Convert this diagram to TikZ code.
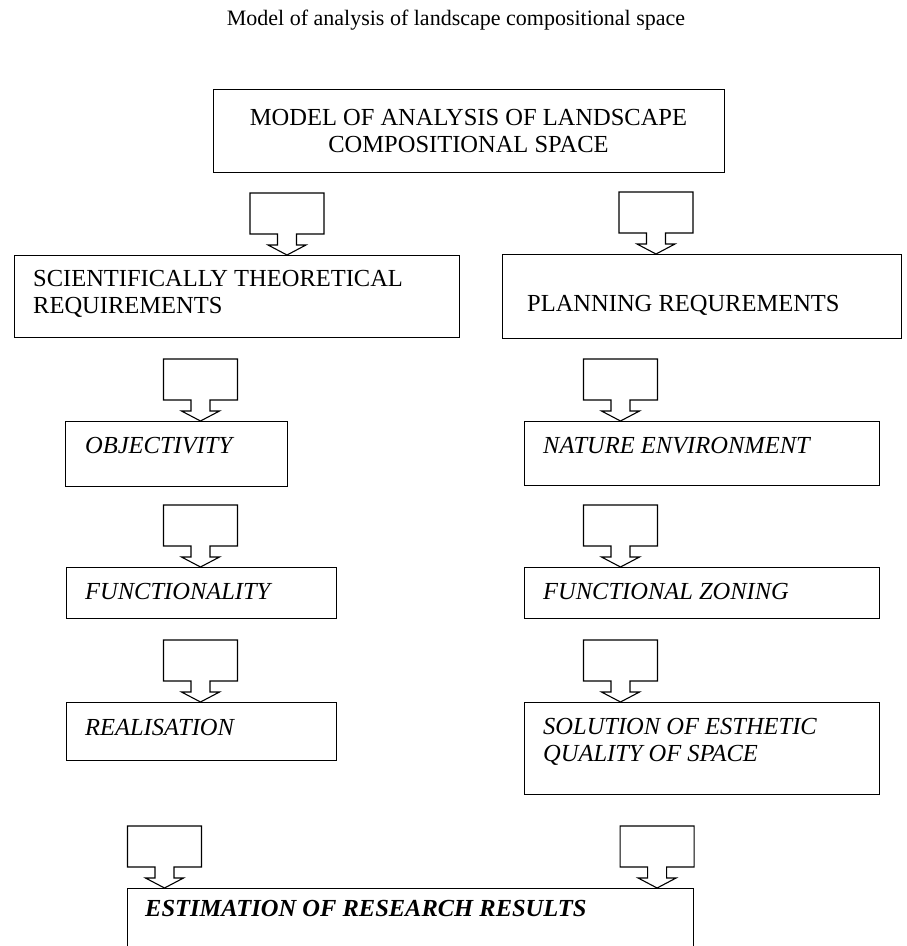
\documentclass[tikz,border=0pt]{standalone}
\usepackage{fontspec}
\setmainfont{Liberation Serif}
\usetikzlibrary{calc}
\begin{document}
\begin{tikzpicture}[x=1pt,y=-1pt,
  box/.style={draw, line width=1.1pt, rectangle, inner sep=0pt, anchor=north west},
  txt/.style={inner sep=0pt, font=\fontsize{24.5}{26.5}\selectfont},
  itxt/.style={txt, font=\fontsize{24.5}{26.5}\selectfont\itshape, anchor=base west},
  btxt/.style={txt, font=\fontsize{24.5}{26.5}\selectfont\bfseries\itshape, anchor=base west},
  barrow/.pic={\draw[line width=1.1pt, line join=miter]
     (0,0) -- (19,-10) -- (9.5,-10) -- (9.5,-21) -- (37,-21) -- (37,-62)
     -- (-37,-62) -- (-37,-21) -- (-9.5,-21) -- (-9.5,-10) -- (-19,-10) -- cycle;}
]
\useasboundingbox (0,0) rectangle (906,946);

% title
\node[inner sep=0pt, anchor=base, font=\fontsize{22}{26}\selectfont] (title) at (456,25)
  {Model of analysis of landscape compositional space};

% boxes
\node[box, minimum width=511pt, minimum height=83pt] (top) at (213,89) {};
\node[txt, align=center, anchor=center] (toptxt) at (468.5,131)
  {MODEL OF ANALYSIS OF LANDSCAPE\\COMPOSITIONAL SPACE};

\node[box, minimum width=445pt, minimum height=82pt] (str) at (14,255) {};
\node[txt, align=left, anchor=north west] (strtxt) at (33,270.5)
  {SCIENTIFICALLY THEORETICAL\\REQUIREMENTS};

\node[box, minimum width=399pt, minimum height=84pt] (plan) at (502,254) {};
\node[txt, anchor=base west] (plantxt) at (527,311) {PLANNING REQUREMENTS};

\node[box, minimum width=222pt, minimum height=65pt] (obj) at (65,421) {};
\node[itxt] (objtxt) at (85,453) {OBJECTIVITY};

\node[box, minimum width=270pt, minimum height=51pt] (func) at (65.5,567) {};
\node[itxt] (functxt) at (85,599) {FUNCTIONALITY};

\node[box, minimum width=270pt, minimum height=58pt] (real) at (65.5,702) {};
\node[itxt] (realtxt) at (85,735) {REALISATION};

\node[box, minimum width=355pt, minimum height=64pt] (nat) at (524,421) {};
\node[itxt] (nattxt) at (543,453) {NATURE ENVIRONMENT};

\node[box, minimum width=355pt, minimum height=51pt] (fz) at (524,567) {};
\node[itxt] (fztxt) at (543,599) {FUNCTIONAL ZONING};

\node[box, minimum width=355pt, minimum height=92pt] (sol) at (524,702) {};
\node[txt, font=\fontsize{24.5}{26.5}\selectfont\itshape, align=left, anchor=north west] (soltxt) at (543,718.5)
  {SOLUTION OF ESTHETIC\\QUALITY OF SPACE};

\node[box, minimum width=566pt, minimum height=90pt] (est) at (127,888) {};
\node[btxt] (esttxt) at (145,916) {ESTIMATION OF RESEARCH RESULTS};

% block arrows (tip on the target box)
\pic at ($(str.north west)+(273,0)$) {barrow};
\pic at ($(plan.north west)+(154,0)$) {barrow};
\pic at ($(obj.north west)+(135.5,0)$) {barrow};
\pic at ($(func.north west)+(135,0)$) {barrow};
\pic at ($(real.north west)+(135,0)$) {barrow};
\pic at ($(nat.north west)+(96.5,0)$) {barrow};
\pic at ($(fz.north west)+(96.5,0)$) {barrow};
\pic at ($(sol.north west)+(96.5,0)$) {barrow};
\pic at ($(est.north west)+(37.5,0)$) {barrow};
\pic at ($(est.north east)+(-37,0)$) {barrow};
\end{tikzpicture}
\end{document}
